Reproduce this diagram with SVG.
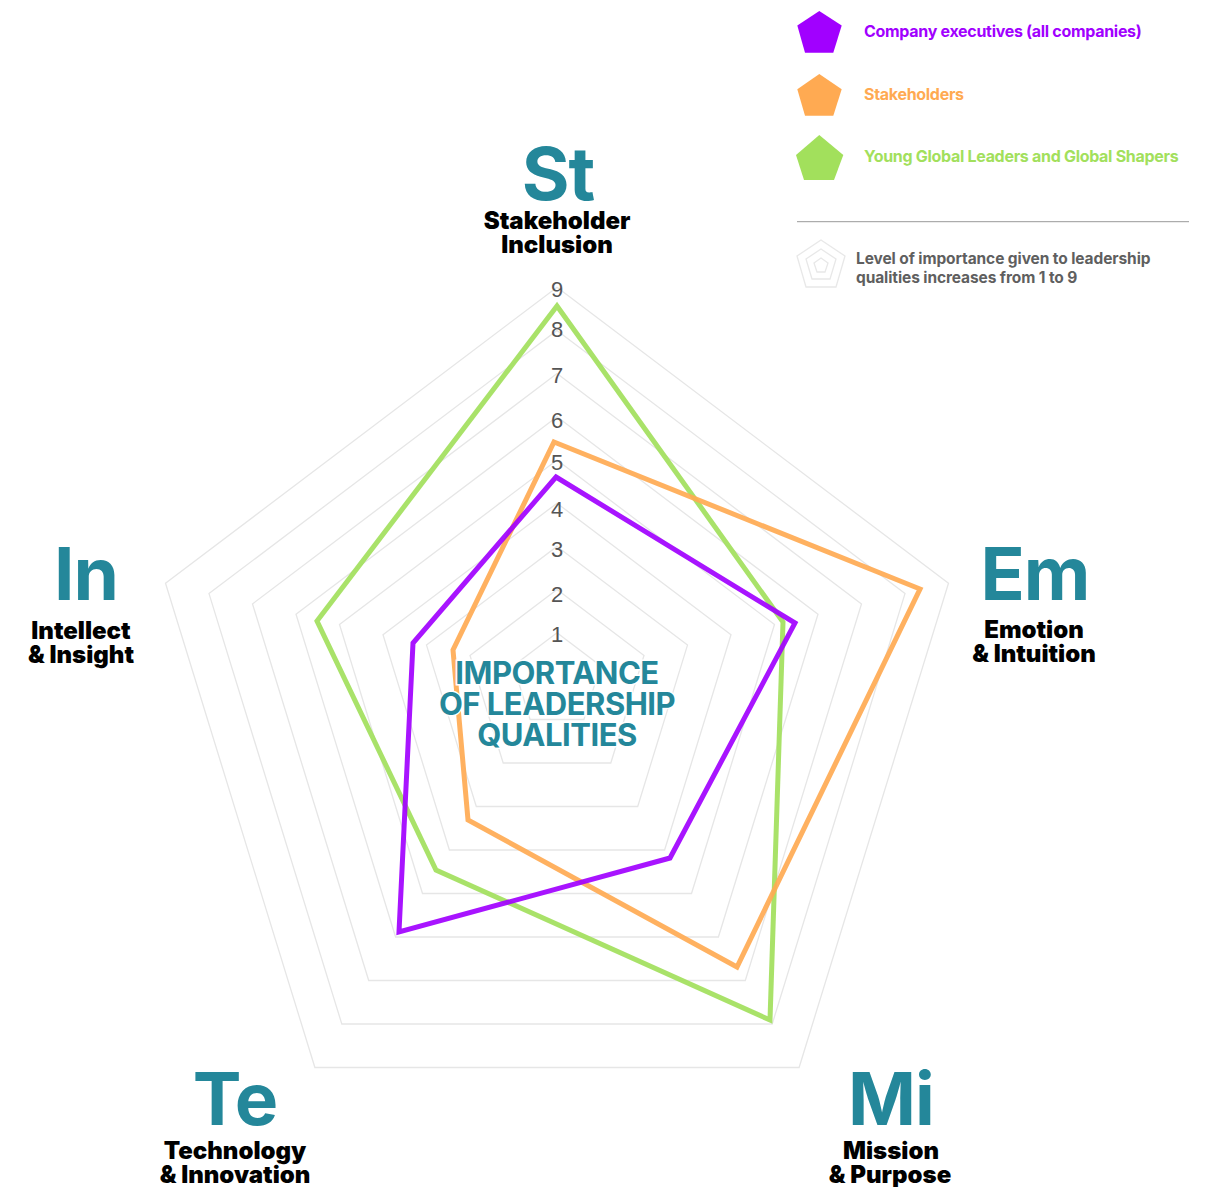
<svg xmlns="http://www.w3.org/2000/svg" width="1215" height="1187" viewBox="0 0 1215 1187">
<style>
.grid{fill:none;stroke:#e6e6e6;stroke-width:1.3}
.data{fill:none;stroke-width:5;stroke-linejoin:miter;opacity:0.92}
.big{font-family:Inter,"Liberation Sans",sans-serif;font-weight:700;fill:#24879a;font-size:73px;text-anchor:middle;letter-spacing:-1px}
.lab{font-family:Inter,"Liberation Sans",sans-serif;font-weight:900;fill:#000;font-size:24px;text-anchor:middle;letter-spacing:0px}
.num{font-family:"Liberation Sans",Arial,sans-serif;font-size:22px;fill:#555;text-anchor:middle}
.ctr{font-family:Inter,"Liberation Sans",sans-serif;font-weight:700;fill:#24879a;font-size:31px;text-anchor:middle;letter-spacing:-0.5px;stroke:#fff;stroke-width:3;paint-order:stroke}
.leg{font-family:Inter,"Liberation Sans",sans-serif;font-weight:700;font-size:16px;letter-spacing:-0.3px}
.note{font-family:Inter,"Liberation Sans",sans-serif;font-weight:700;font-size:15.5px;letter-spacing:-0.1px;fill:#5f5f5f}
</style>
<rect width="1215" height="1187" fill="#fff"/>
<g id="grid">
<polygon class="grid" points="557,632.8 600.5,665.7 583.9,719.5 530.1,719.5 513.5,665.7"/>
<polygon class="grid" points="557,589.6 644,655.4 610.8,763 503.2,763 470,655.4"/>
<polygon class="grid" points="557,546.4 687.5,645.1 637.7,806.5 476.3,806.5 426.5,645.1"/>
<polygon class="grid" points="557,503.2 731,634.8 664.6,850 449.4,850 383,634.8"/>
<polygon class="grid" points="557,460 774.5,624.5 691.5,893.5 422.5,893.5 339.5,624.5"/>
<polygon class="grid" points="557,416.8 818,614.2 718.4,937 395.6,937 296,614.2"/>
<polygon class="grid" points="557,373.6 861.5,603.9 745.3,980.5 368.7,980.5 252.5,603.9"/>
<polygon class="grid" points="557,330.4 905,593.6 772.2,1024 341.8,1024 209,593.6"/>
<polygon class="grid" points="557,287.2 948.5,583.3 799.1,1067.5 314.9,1067.5 165.5,583.3"/>
</g>
<g id="scale">
<text class="num" x="557" y="642">1</text>
<text class="num" x="557" y="602">2</text>
<text class="num" x="557" y="557">3</text>
<text class="num" x="557" y="517">4</text>
<text class="num" x="557" y="470">5</text>
<text class="num" x="557" y="428">6</text>
<text class="num" x="557" y="383">7</text>
<text class="num" x="557" y="337">8</text>
<text class="num" x="557" y="297">9</text>
</g>
<g id="connectors">
<polygon id="series-yglgs" class="data" stroke="#a2e05c" points="557,306 783,622 770,1020 436,870 317,621"/>
<polygon id="series-stakeholders" class="data" stroke="#ffaa52" points="554,442 920,589 737,967 468,820 453,650"/>
<polygon id="series-executives" class="data" stroke="#a100ff" points="556,477 795,623 670,858 399,932 413,643"/>
</g>
<g id="center-title">
<text class="ctr" x="557" y="684">IMPORTANCE</text>
<text class="ctr" x="557" y="715">OF LEADERSHIP</text>
<text class="ctr" x="557" y="746">QUALITIES</text>
</g>
<g id="node-st">
<text class="big" x="558" y="200">St</text>
<text class="lab" x="557" y="229">Stakeholder</text>
<text class="lab" x="557" y="253">Inclusion</text>
</g>
<g id="node-em">
<text class="big" x="1035" y="600">Em</text>
<text class="lab" x="1034" y="638">Emotion</text>
<text class="lab" x="1034" y="662">&amp; Intuition</text>
</g>
<g id="node-in">
<text class="big" x="86" y="600">In</text>
<text class="lab" x="81" y="639">Intellect</text>
<text class="lab" x="81" y="663">&amp; Insight</text>
</g>
<g id="node-te">
<text class="big" x="235" y="1125">Te</text>
<text class="lab" x="235" y="1159">Technology</text>
<text class="lab" x="235" y="1183">&amp; Innovation</text>
</g>
<g id="node-mi">
<text class="big" x="891" y="1125">Mi</text>
<text class="lab" x="891" y="1159">Mission</text>
<text class="lab" x="890" y="1183">&amp; Purpose</text>
</g>
<g id="legend">
<polygon fill="#a100ff" points="819.3,11 841.7,25.5 833.3,52.7 805,52.7 797.3,25.5"/>
<text class="leg" x="864" y="37" fill="#a100ff">Company executives (all companies)</text>
<polygon fill="#ffaa52" points="819.3,74 841.7,89.3 833.3,115.7 805,115.7 797.3,89.3"/>
<text class="leg" x="864" y="100" fill="#ffaa52">Stakeholders</text>
<polygon fill="#a2e05c" points="819.3,135 843.3,155 834,180 804,180 796,155"/>
<text class="leg" x="864" y="162" fill="#a2e05c">Young Global Leaders and Global Shapers</text>
<line x1="797" y1="221.7" x2="1189" y2="221.7" stroke="#999" stroke-width="1"/>
<g fill="none" stroke="#e8e8e8" stroke-width="1.3">
<polygon points="821,240 845,256 836,287 806,287 797,256"/>
<polygon points="821,249 836,259 830,279 812,279 806,259"/>
<polygon points="821,258 828,263 825,272 817,272 814,263"/>
</g>
<text class="note" x="856" y="264">Level of importance given to leadership</text>
<text class="note" x="856" y="283">qualities increases from 1 to 9</text>
</g>
</svg>
